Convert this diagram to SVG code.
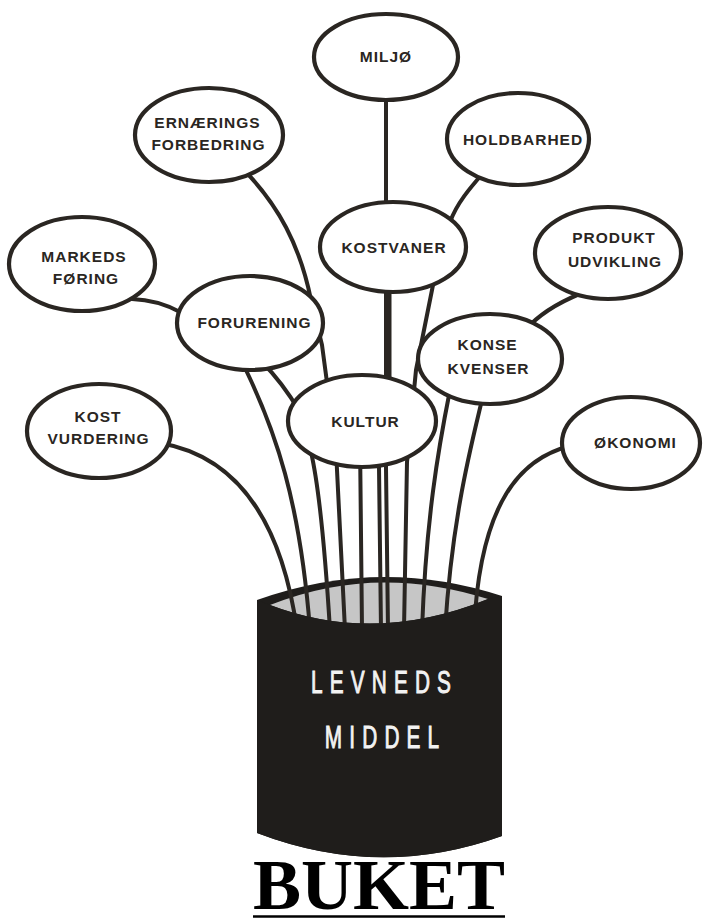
<svg xmlns="http://www.w3.org/2000/svg" width="703" height="919" viewBox="0 0 703 919">
<style>
.stem{fill:none;stroke:#2a2622;stroke-width:4;stroke-linecap:round;stroke-linejoin:round}
.node ellipse{fill:#fff;stroke:#2a2622;stroke-width:4.2}
.node text{font-family:"Liberation Sans",Arial,sans-serif;font-weight:bold;font-size:15.5px;letter-spacing:1px;fill:#2a2622;text-anchor:middle}
.pot{fill:#1f1d1b}
.rim{fill:#c6c6c6}
.potlabel{font-family:"Liberation Sans",Arial,sans-serif;font-size:32px;letter-spacing:11px;fill:#f2f2f2;stroke:#f2f2f2;stroke-width:1;text-anchor:middle}
.title{font-family:"Liberation Serif","Times New Roman",serif;font-weight:bold;font-size:72px;fill:#000;text-anchor:middle}
</style>
<rect width="703" height="919" fill="#fff"/>
<g id="pot-back">
<path class="pot" d="M257,600 Q380,556 502,596 L502,836 Q380,880 257,833 Z"/>
<path class="rim" d="M270,605 Q375,563 488,599 Q375,645 270,605 Z"/>
</g>
<g id="connectors">
<path class="stem" d="M386,60 L386,468 L388,630"/>
<path class="stem" d="M389.5,250 L389.5,380 L379,467 L381,630"/>
<path class="stem" d="M484,172 C470,188 457,203 450,222 L433,285 L416,370 L407,462 L404,630"/>
<path class="stem" d="M244,170 C278,205 300,245 311,300 L322,345 L336,450 L345,630"/>
<path class="stem" d="M132,299 Q158,300 180,312 L245,368 C275,430 300,500 310,630"/>
<path class="stem" d="M262,362 Q282,382 300,412 L311,452 Q322,500 330,630"/>
<path class="stem" d="M160,443 C230,455 280,510 297,630"/>
<path class="stem" d="M360,440 L362,630"/>
<path class="stem" d="M450,390 C438,450 426,520 422,630"/>
<path class="stem" d="M590,290 C568,298 545,310 530,325 L481,404 C470,450 452,520 445,630"/>
<path class="stem" d="M570,446 C522,458 480,500 474,630"/>
</g>
<g id="pot">
<path class="pot" d="M257,600 L270,605 Q375,645 488,599 L502,596 L502,836 Q380,880 257,833 Z"/>
<text class="potlabel" transform="translate(381,693) scale(0.65,1)" x="5.5" y="0">LEVNEDS</text>
<text class="potlabel" transform="translate(382,748) scale(0.65,1)" x="5.5" y="0">MIDDEL</text>
</g>
<g id="miljo" class="node"><ellipse cx="386" cy="57" rx="72" ry="43"/><text x="386" y="62">MILJØ</text></g>
<g id="holdbarhed" class="node"><ellipse cx="518" cy="139" rx="71" ry="46"/><text x="523" y="145">HOLDBARHED</text></g>
<g id="kostvaner" class="node"><ellipse cx="393" cy="247" rx="73" ry="45"/><text x="394" y="253">KOSTVANER</text></g>
<g id="produkt" class="node"><ellipse cx="608" cy="253" rx="73" ry="46"/><text x="614" y="243">PRODUKT</text><text x="615" y="267">UDVIKLING</text></g>
<g id="konsekvenser" class="node"><ellipse cx="490" cy="359" rx="72" ry="45"/><text x="487.5" y="350">KONSE</text><text x="488.5" y="374">KVENSER</text></g>
<g id="okonomi" class="node"><ellipse cx="631" cy="443" rx="69" ry="46"/><text x="635.5" y="448">ØKONOMI</text></g>
<g id="kultur" class="node"><ellipse cx="362" cy="421" rx="74" ry="46"/><text x="365.5" y="427">KULTUR</text></g>
<g id="ernaerings" class="node"><ellipse cx="209" cy="135" rx="74" ry="47"/><text x="207.5" y="128">ERNÆRINGS</text><text x="208.5" y="150">FORBEDRING</text></g>
<g id="markeds" class="node"><ellipse cx="82" cy="264" rx="73" ry="47"/><text x="84" y="262">MARKEDS</text><text x="86" y="284">FØRING</text></g>
<g id="forurening" class="node"><ellipse cx="250" cy="323" rx="73" ry="47"/><text x="254.5" y="328">FORURENING</text></g>
<g id="kostvurdering" class="node"><ellipse cx="99" cy="431" rx="72" ry="47"/><text x="98" y="422">KOST</text><text x="98.5" y="444">VURDERING</text></g>
<g id="title">
<text class="title" x="379" y="909">BUKET</text>
<line x1="253" y1="916.5" x2="505" y2="916.5" stroke="#000" stroke-width="2.5"/>
</g>
</svg>
